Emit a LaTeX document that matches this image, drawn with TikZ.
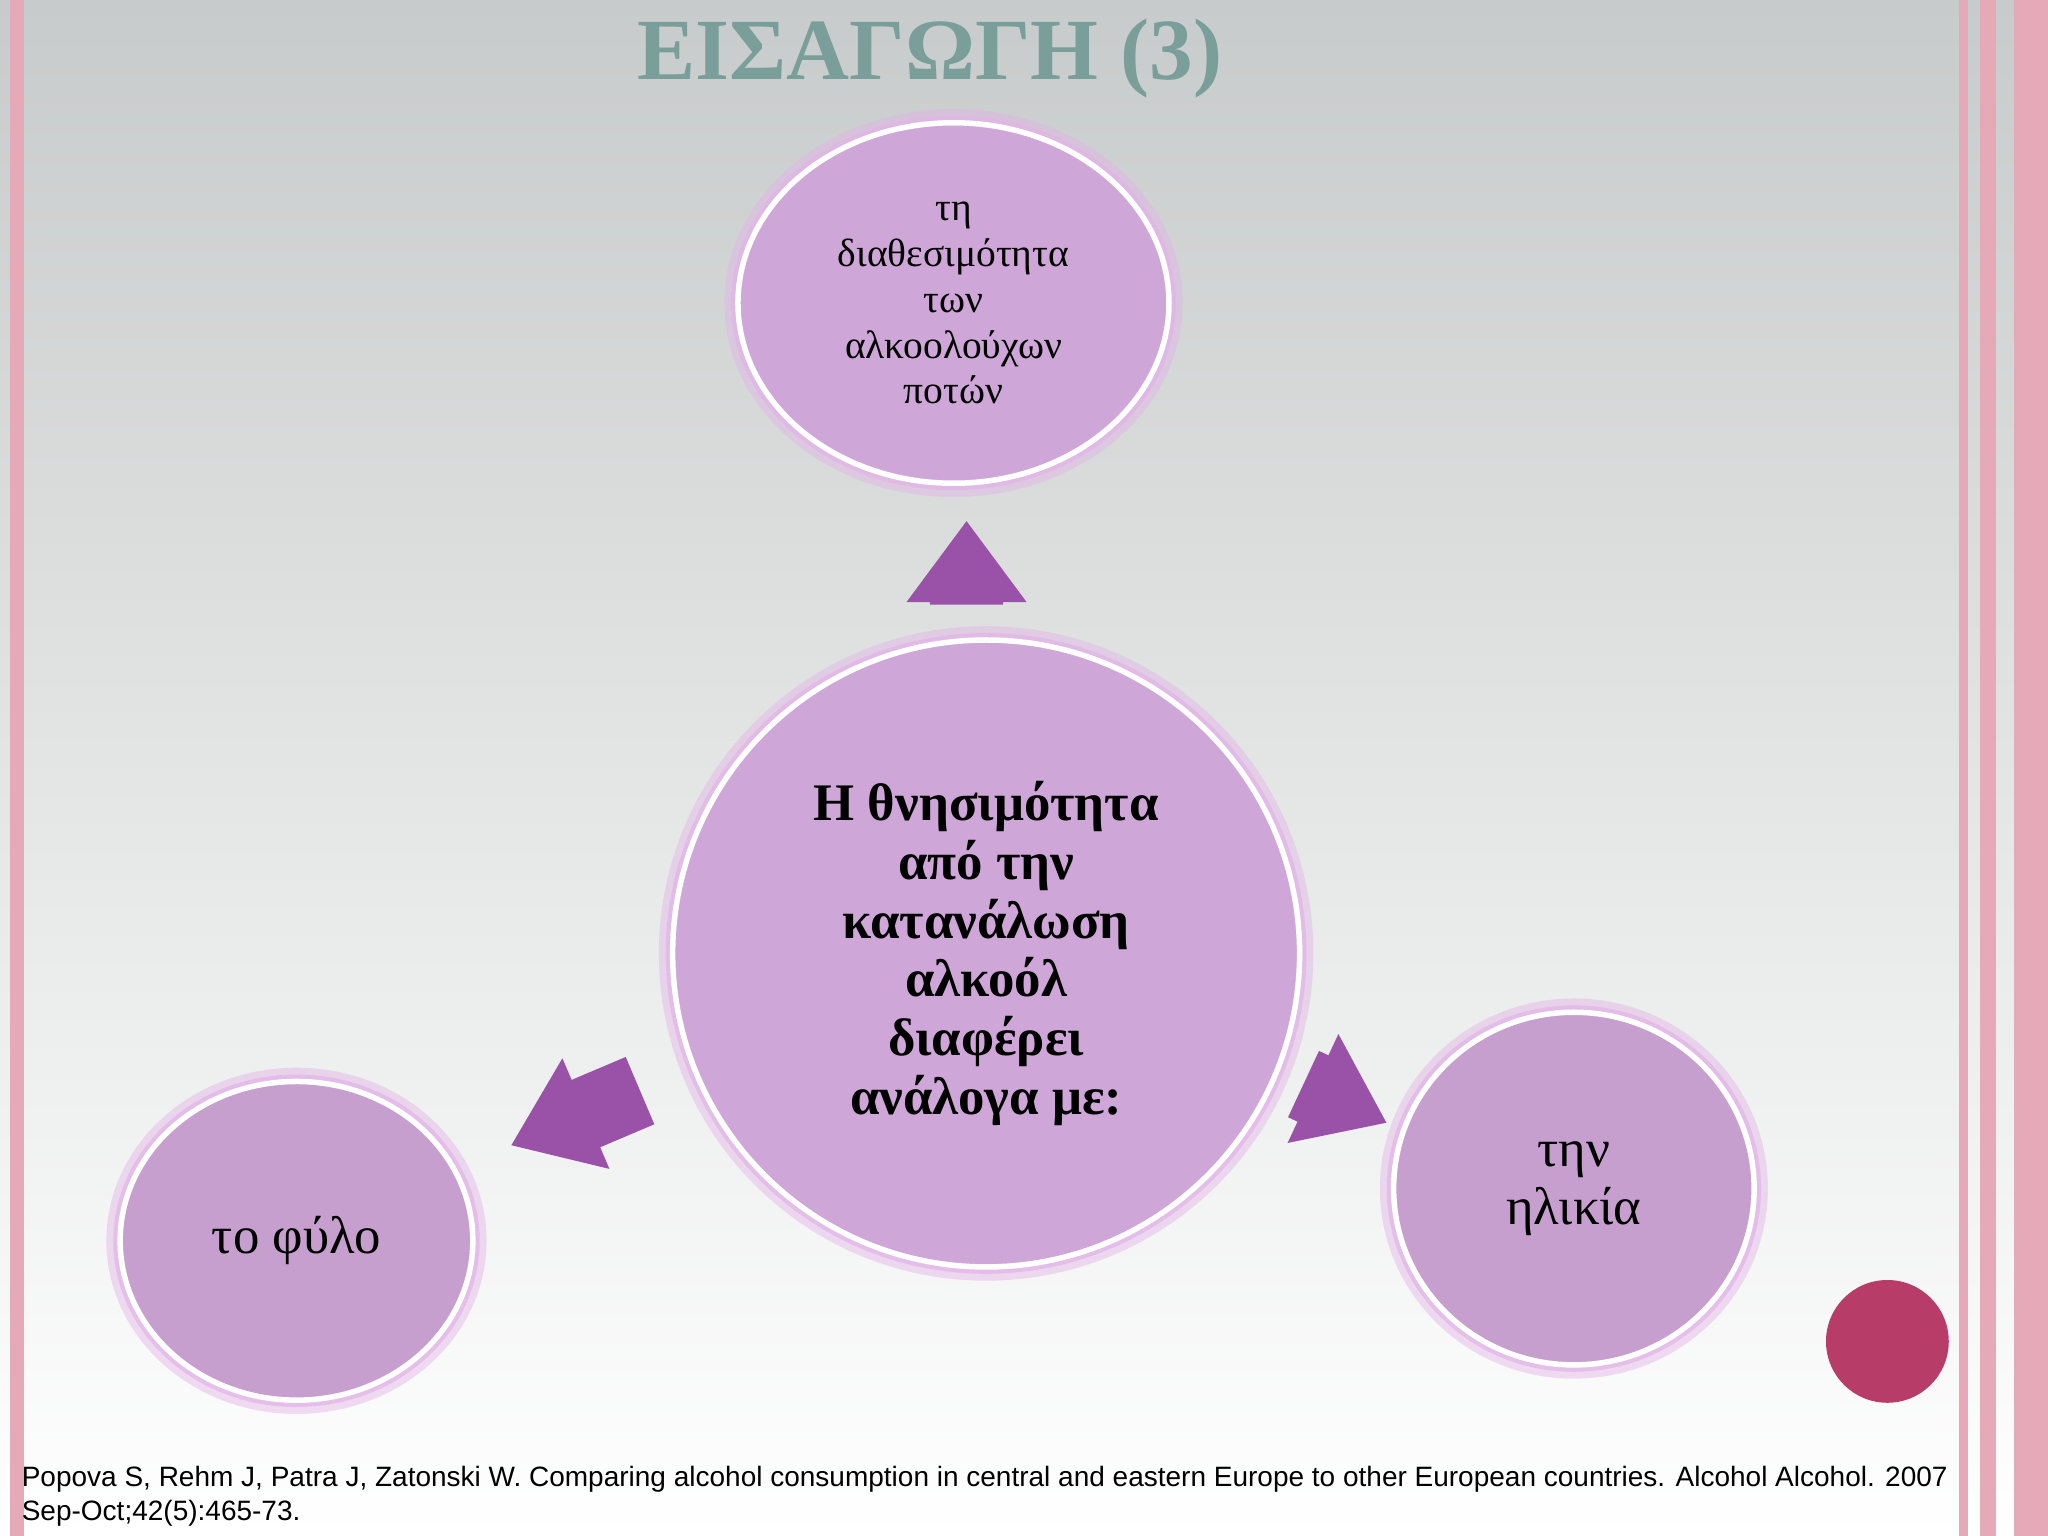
\documentclass[tikz,border=0pt]{standalone}
\usepackage{fontspec}
\setmainfont{Liberation Serif}
\newfontfamily\citefont{Liberation Sans}
\usetikzlibrary{shapes.geometric}
\definecolor{bubble}{HTML}{CFA6D8}
\definecolor{bubbleB}{HTML}{C69FCF}
\definecolor{glow}{HTML}{E2B3E8}
\definecolor{arrowc}{HTML}{9A52A8}
\definecolor{titlec}{HTML}{7A9E9A}
\definecolor{pinkbar}{HTML}{E6A9B8}
\definecolor{dot}{HTML}{B83C68}
\tikzset{
 bub/.style={ellipse,fill=bubble,draw=white,line width=1.2pt,inner sep=0pt,align=center,
   preaction={draw=glow,line width=6pt,opacity=0.45},
   preaction={draw=glow,line width=3pt,opacity=0.7}},
 blkarrow/.pic={\fill[arrowc] (0,-0.28) -- (#1,-0.28) -- (#1,-0.46) -- (#1+0.62,0) -- (#1,0.46) -- (#1,0.28) -- (0,0.28) -- cycle;}
}
\begin{document}
\begin{tikzpicture}[x=1cm,y=1cm]
\useasboundingbox (0,0) rectangle (15.68,-11.76);
\shade[top color={rgb,255:red,200;green,203;blue,203},bottom color=white] (0,0) rectangle (15.68,-11.76);
\fill[pinkbar] (0.08,0) rectangle (0.18,-11.76);
\fill[pinkbar] (15.0,0) rectangle (15.07,-11.76);
\fill[pinkbar] (15.16,0) rectangle (15.28,-11.76);
\fill[pinkbar] (15.42,0) rectangle (15.68,-11.76);
\node[text=titlec,font=\bfseries\fontsize{19}{22}\selectfont] (title) at (7.12,-0.45) {ΕΙΣΑΓΩΓΗ (3)};
\node[bub,minimum width=3.3cm,minimum height=2.76cm,font=\fontsize{8.6}{10}\selectfont] (top) at (7.30,-2.32) {τη\\διαθεσιμότητα\\των\\αλκοολούχων\\ποτών};
\node[bub,circle,minimum size=4.8cm,font=\bfseries\fontsize{11.5}{12.8}\selectfont] (mid) at (7.55,-7.30) {Η θνησιμότητα\\από την\\κατανάλωση\\αλκοόλ\\διαφέρει\\ανάλογα με:};
\node[bub,fill=bubbleB,minimum width=2.7cm,minimum height=2.44cm,font=\fontsize{11.5}{12.8}\selectfont] (left) at (2.27,-9.50) {το φύλο};
\node[bub,fill=bubbleB,minimum width=2.76cm,minimum height=2.7cm,font=\fontsize{11.5}{12.8}\selectfont] (right) at (12.05,-9.10) {την\\ηλικία};
\pic[rotate=90] at (7.40,-4.63) {blkarrow=0.02};
\pic[rotate=203] at (4.90,-8.35) {blkarrow=0.45};
\pic[rotate=-25] at (9.98,-8.30) {blkarrow=0.08};
\fill[dot] (14.45,-10.27) circle (0.47);
\node[anchor=north west,align=left,font=\citefont\fontsize{6.1}{7.4}\selectfont,inner sep=0pt] (cite) at (0.16,-11.22) {Popova S, Rehm J, Patra J, Zatonski W. Comparing alcohol consumption in central and eastern Europe to other European countries. Alcohol Alcohol. 2007\\Sep-Oct;42(5):465-73.};
\end{tikzpicture}
\end{document}
